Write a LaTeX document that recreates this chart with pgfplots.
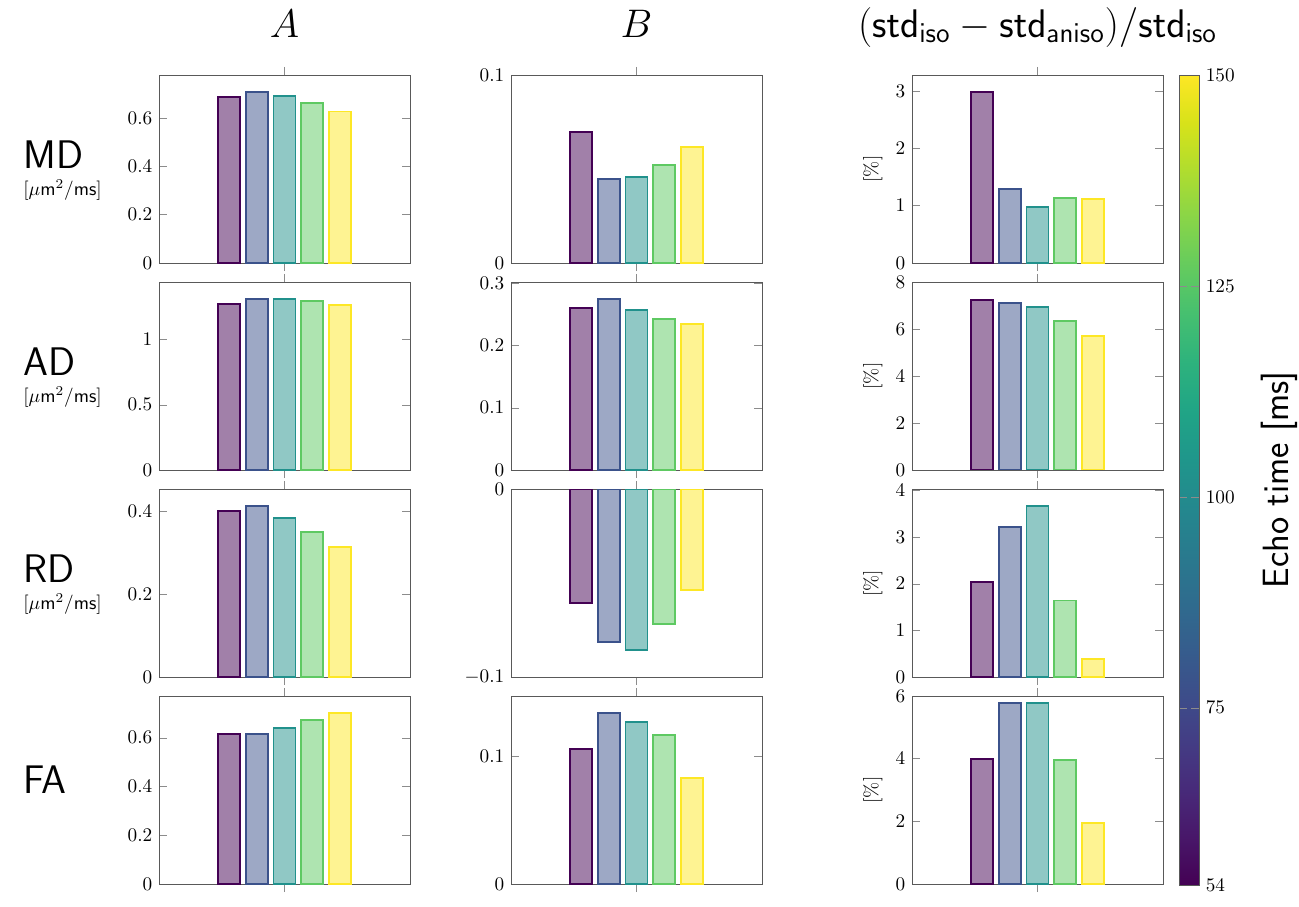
\documentclass[border=0pt]{standalone}
\usepackage{pgfplots}
\pgfplotsset{compat=1.18}
\definecolor{v1}{HTML}{440154}
\definecolor{v2}{HTML}{3B528B}
\definecolor{v3}{HTML}{21918C}
\definecolor{v4}{HTML}{5EC962}
\definecolor{v5}{HTML}{FDE725}
\pgfplotsset{
  panel/.style={scale only axis, width=130.52pt, height=97.76pt,
    xmin=-4.5, xmax=4.5, xtick={0}, xticklabels={},
    xtick align=outside, ytick align=inside,
    axis line style={black!65}, tick style={black!45},
    scaled y ticks=false, yticklabel style={/pgf/number format/fixed},
    anchor=north west},
  bb/.style={ybar, bar width=0.79, bar shift=0pt, draw=#1, fill=#1,
    fill opacity=0.5, line width=1pt},
}
\newcommand{\bars}[5]{%
  \addplot[bb=v1] coordinates {(-2,#1)};
  \addplot[bb=v2] coordinates {(-1,#2)};
  \addplot[bb=v3] coordinates {(0,#3)};
  \addplot[bb=v4] coordinates {(1,#4)};
  \addplot[bb=v5] coordinates {(2,#5)};
}
\begin{document}
\begin{tikzpicture}
\useasboundingbox (0,0) rectangle (675.48pt,-471.64pt);
% titles
\node[anchor=base] at (147.94pt,-19.24pt) {\huge $A$};
\node[anchor=base] at (330.98pt,-19.24pt) {\huge $B$};
\node[anchor=base] at (539.5pt,-19.24pt) {\fontsize{19.4}{23}\selectfont $(\mathsf{std}_{\mathsf{iso}}-\mathsf{std}_{\mathsf{aniso}})/\mathsf{std}_{\mathsf{iso}}$};
% row labels
\node[anchor=base west,inner sep=0pt] at (11.96pt,-87.36pt) {\huge\sffamily MD};
\node[anchor=base west,inner sep=0pt] at (11.96pt,-101.4pt) {\normalsize $[\mu\mathsf{m}^2/\mathsf{ms}]$};
\node[anchor=base west,inner sep=0pt] at (11.96pt,-195pt) {\huge\sffamily AD};
\node[anchor=base west,inner sep=0pt] at (11.96pt,-209.04pt) {\normalsize $[\mu\mathsf{m}^2/\mathsf{ms}]$};
\node[anchor=base west,inner sep=0pt] at (11.96pt,-302.64pt) {\huge\sffamily RD};
\node[anchor=base west,inner sep=0pt] at (11.96pt,-316.68pt) {\normalsize $[\mu\mathsf{m}^2/\mathsf{ms}]$};
\node[anchor=base west,inner sep=0pt] at (11.96pt,-412.36pt) {\huge\sffamily FA};

% ---------- MD ----------
\begin{axis}[panel, at={(82.68pt,-39pt)}, ymin=0, ymax=0.778, ytick={0,0.2,0.4,0.6}]
\bars{0.686}{0.708}{0.691}{0.664}{0.627}
\end{axis}
\begin{axis}[panel, at={(265.72pt,-39pt)}, ymin=0, ymax=0.1, ytick={0,0.1}]
\bars{0.0695}{0.0445}{0.0457}{0.0520}{0.0619}
\end{axis}
\begin{axis}[panel, at={(474.24pt,-39pt)}, ymin=0, ymax=3.28, ytick={0,1,2,3},
  ylabel={[\%]},
  colorbar, colormap/viridis, point meta min=54, point meta max=150,
  colorbar style={at={(parent axis.north east)}, anchor=north west, xshift=-0.2pt,
    scale only axis, width=10.4pt, height=421.2pt,
    ytick={54,75,100,125,150}, axis line style={black!65}, tick style={black!45},
    ylabel={\fontsize{19}{22}\selectfont\sffamily Echo time [ms]}, ylabel shift=7pt}]
\bars{2.983}{1.295}{0.977}{1.127}{1.116}
\end{axis}

% ---------- AD ----------
\begin{axis}[panel, at={(82.68pt,-146.64pt)}, ymin=0, ymax=1.44, ytick={0,0.5,1}]
\bars{1.270}{1.311}{1.311}{1.293}{1.263}
\end{axis}
\begin{axis}[panel, at={(265.72pt,-146.64pt)}, ymin=0, ymax=0.302, ytick={0,0.1,0.2,0.3}]
\bars{0.2602}{0.2750}{0.2575}{0.2430}{0.2350}
\end{axis}
\begin{axis}[panel, at={(474.24pt,-146.64pt)}, ymin=0, ymax=8, ytick={0,2,4,6,8},
  ylabel={[\%]}]
\bars{7.25}{7.09}{6.92}{6.34}{5.71}
\end{axis}

% ---------- RD ----------
\begin{axis}[panel, at={(82.68pt,-254.28pt)}, ymin=0, ymax=0.453, ytick={0,0.2,0.4}]
\bars{0.399}{0.412}{0.384}{0.349}{0.313}
\end{axis}
\begin{axis}[panel, at={(265.72pt,-254.28pt)}, ymin=-0.1, ymax=0, ytick={-0.1,0}]
\bars{-0.0606}{-0.0814}{-0.0856}{-0.0719}{-0.0535}
\end{axis}
\begin{axis}[panel, at={(474.24pt,-254.28pt)}, ymin=0, ymax=4.03, ytick={0,1,2,3,4},
  ylabel={[\%]}]
\bars{2.03}{3.21}{3.67}{1.64}{0.39}
\end{axis}

% ---------- FA ----------
\begin{axis}[panel, at={(82.68pt,-361.92pt)}, ymin=0, ymax=0.771, ytick={0,0.2,0.4,0.6}]
\bars{0.615}{0.615}{0.641}{0.673}{0.701}
\end{axis}
\begin{axis}[panel, at={(265.72pt,-361.92pt)}, ymin=0, ymax=0.147, ytick={0,0.1}]
\bars{0.1057}{0.1340}{0.1264}{0.1162}{0.0828}
\end{axis}
\begin{axis}[panel, at={(474.24pt,-361.92pt)}, ymin=0, ymax=6, ytick={0,2,4,6},
  ylabel={[\%]}]
\bars{4.00}{5.79}{5.79}{3.97}{1.96}
\end{axis}
\end{tikzpicture}
\end{document}
